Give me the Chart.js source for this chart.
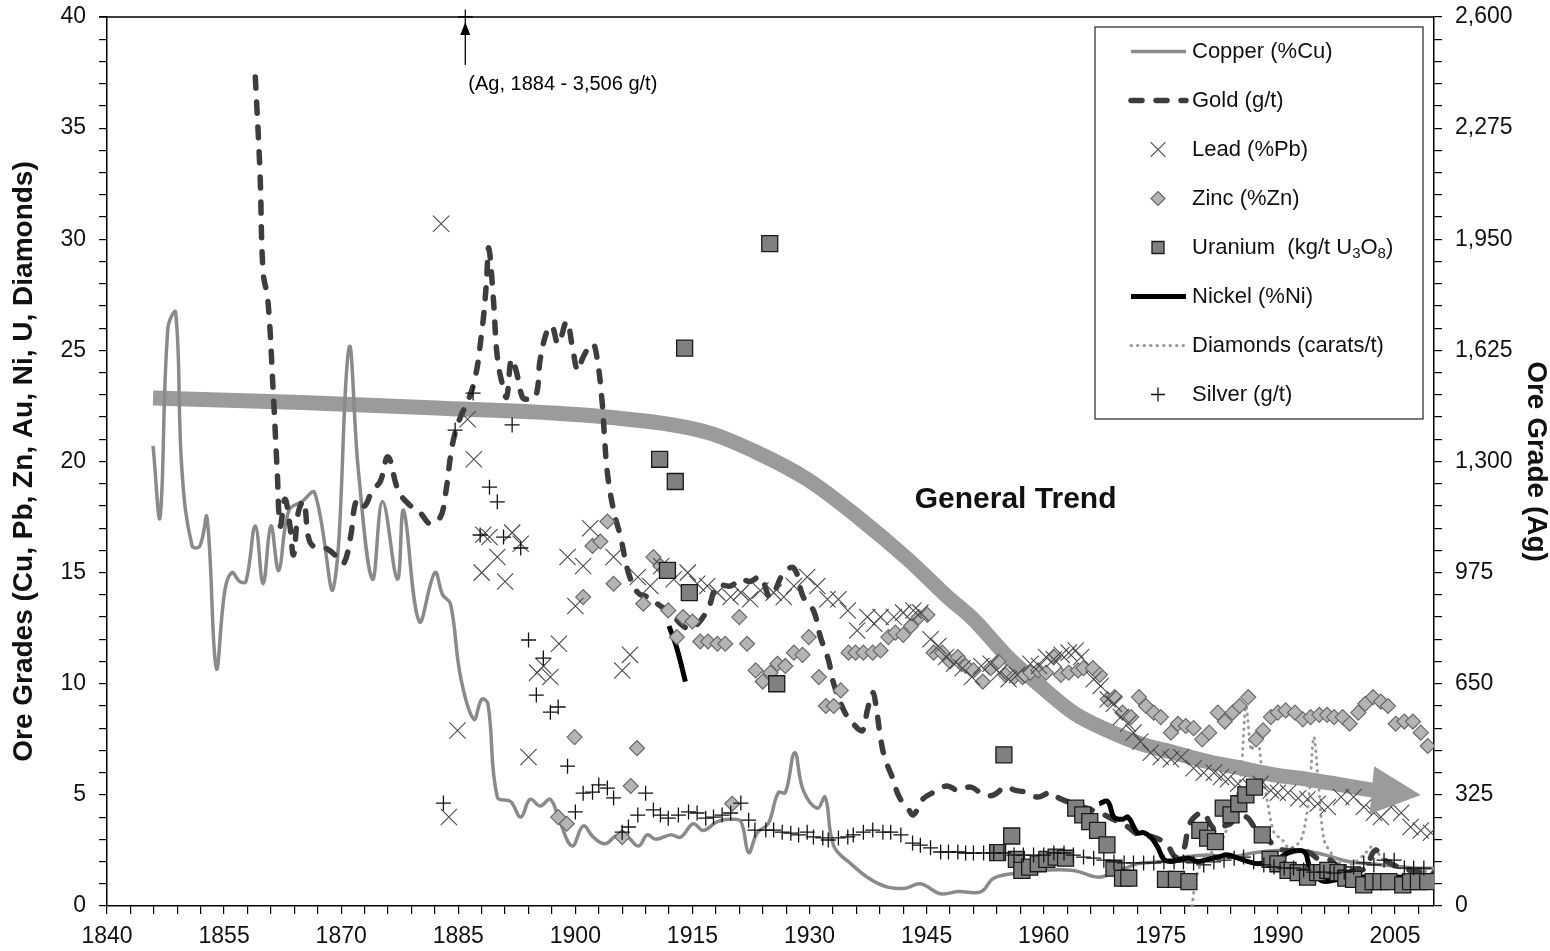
<!DOCTYPE html>
<html>
<head>
<meta charset="utf-8">
<script src="https://cdn.jsdelivr.net/npm/chart.js@4.4.1/dist/chart.umd.min.js"></script>
<style>
  html, body { margin: 0; padding: 0; background: #fff; }
  canvas { display: block; }
</style>
</head>
<body>
<canvas id="oreChart" width="1550" height="951"></canvas>
<script>
/////////////////////////////////////////////////////////////
// data
/////////////////////////////////////////////////////////////
// axis ticks
const xLabelYears = [1840, 1855, 1870, 1885, 1900, 1915, 1930, 1945, 1960, 1975, 1990, 2005]
const xMinorStep = 3
const gradeLabels = [0, 5, 10, 15, 20, 25, 30, 35, 40]
const gradeMinorStep = 1
const agLabels = [0, 325, 650, 975, 1300, 1625, 1950, 2275, 2600]
const agMinorStep = 65

// Copper (%Cu)
const cuYear = [1845.9, 1846.8, 1847.8, 1848.8, 1849.6, 1850.9, 1851.9, 1852.8, 1854.0, 1855.1, 1856.0, 1857.0, 1857.8,
  1859.0, 1860.0, 1861.0, 1862.0, 1863.3, 1865.0, 1866.6, 1869.0, 1871.0, 1872.2, 1874.0, 1875.3, 1877.2, 1878.0,
  1880.0, 1882.0, 1883.0, 1884.0, 1885.3, 1887.0, 1888.0, 1888.8, 1890.0, 1891.7, 1893.0, 1894.2, 1895.5, 1896.8,
  1898.0, 1899.6, 1901.0, 1902.3, 1903.8, 1905.4, 1906.7, 1908.1, 1909.2, 1910.3, 1912.2, 1913.5, 1915.1, 1916.4,
  1918.2, 1919.9, 1921.2, 1922.2, 1923.3, 1924.7, 1926.0, 1926.9, 1928.1, 1929.2, 1931.0, 1932.0, 1933.1, 1935.3,
  1937.8, 1940.0, 1942.3, 1944.2, 1946.8, 1949.0, 1952.0, 1953.6, 1957.0, 1959.6, 1963.8, 1967.0, 1969.0, 1970.8,
  1972.0, 1975.0, 1978.0, 1981.0, 1984.0, 1987.0, 1990.0, 1993.0, 1996.0, 1999.0, 2002.0, 2005.0, 2008.0, 2010.0]
const cuGrade = [20.7, 17.5, 26.0, 26.7, 19.6, 16.2, 16.2, 17.5, 10.7, 14.2, 15.0, 14.6, 14.6,
  17.1, 14.5, 17.1, 15.1, 17.8, 18.2, 18.6, 14.3, 25.1, 19.6, 14.7, 18.2, 14.7, 17.8,
  12.8, 15.0, 14.0, 13.6, 10.3, 8.4, 9.3, 9.1, 4.9, 4.7, 4.0, 4.8, 4.5, 4.8,
  3.8, 2.7, 3.6, 3.1, 2.8, 3.2, 3.1, 2.7, 3.2, 3.0, 3.2, 3.1, 3.7, 3.4,
  3.8, 3.9, 3.8, 2.4, 3.3, 3.7, 5.1, 5.1, 6.9, 5.2, 4.4, 4.9, 2.7, 1.9,
  1.2, 0.85, 0.8, 1.0, 0.55, 0.65, 0.65, 1.25, 1.5, 1.6, 1.6, 1.3, 1.5, 1.75,
  1.9, 2.0, 2.2, 2.3, 2.2, 2.4, 2.5, 2.5, 2.3, 2.0, 1.9, 1.8, 1.7, 1.7]

// Gold (g/t)
const auYear = [1859.0, 1859.6, 1860.0, 1860.6, 1861.3, 1861.8, 1862.2, 1862.8, 1863.4, 1863.9, 1864.5, 1865.2, 1865.8,
  1866.4, 1868.0, 1869.5, 1870.3, 1871.2, 1871.8, 1872.4, 1873.0, 1874.0, 1875.0, 1876.0, 1877.3, 1878.6, 1880.1,
  1881.4, 1882.7, 1883.3, 1884.6, 1886.9, 1888.0, 1888.6, 1888.9, 1889.5, 1890.0, 1890.7, 1891.2, 1891.8, 1892.4,
  1893.2, 1893.8, 1894.9, 1895.5, 1896.4, 1897.0, 1897.8, 1898.9, 1899.6, 1900.3, 1901.0, 1902.2, 1902.8, 1903.4,
  1903.7, 1904.1, 1904.9, 1905.8, 1906.8, 1908.0, 1909.2, 1910.9, 1912.2, 1913.8, 1915.0, 1916.9, 1918.2, 1919.9,
  1921.2, 1922.4, 1923.7, 1925.0, 1926.7, 1928.0, 1929.2, 1930.5, 1931.4, 1932.4, 1933.1, 1934.4, 1935.6, 1936.8,
  1937.4, 1938.1, 1938.6, 1939.0, 1939.6, 1940.6, 1941.5, 1942.6, 1943.3, 1944.5, 1945.8, 1947.6, 1949.0, 1950.7,
  1952.3, 1953.6, 1955.1, 1956.4, 1958.0, 1959.2, 1960.9, 1962.0, 1963.8, 1965.5, 1967.1, 1968.9, 1970.6, 1972.2,
  1974.0, 1975.7, 1976.9, 1977.8, 1978.6, 1979.3, 1980.5, 1981.3, 1982.2, 1983.1, 1983.9, 1984.7, 1986.0, 1986.9,
  1987.6, 1988.5, 1989.7, 1991.0, 1992.3, 1994.0, 1995.3, 1996.5, 1997.9, 2000.0, 2001.2, 2002.5, 2004.0, 2007.0, 2010.0]
const auGrade = [37.3, 33.0, 28.5, 27.3, 23.1, 19.6, 17.1, 18.3, 17.2, 15.8, 17.7, 18.2, 16.6,
  16.2, 16.1, 15.7, 15.4, 16.6, 18.1, 18.3, 18.0, 18.7, 19.1, 20.2, 18.7, 18.1, 17.7,
  17.2, 17.5, 18.4, 21.3, 23.4, 25.8, 28.0, 29.6, 27.3, 24.7, 23.4, 22.9, 24.6, 24.1,
  22.9, 22.8, 22.9, 24.6, 25.9, 26.1, 25.3, 26.3, 25.2, 24.1, 24.7, 25.3, 24.6, 22.8,
  21.3, 19.5, 17.8, 16.6, 15.0, 14.1, 13.9, 13.5, 13.2, 12.6, 12.5, 13.3, 14.4, 14.4,
  14.7, 14.6, 14.8, 13.9, 15.0, 15.2, 13.9, 13.3, 12.1, 11.1, 10.0, 8.8, 8.2, 7.9,
  8.8, 9.6, 8.8, 7.8, 6.7, 5.8, 4.9, 4.4, 4.1, 4.8, 5.1, 5.4, 5.2, 5.35,
  5.0, 5.0, 5.35, 5.2, 5.1, 4.9, 5.1, 4.85, 4.6, 4.4, 4.2, 3.9, 3.6, 3.2,
  3.1, 2.8, 2.2, 2.4, 3.6, 4.0, 4.2, 3.7, 3.4, 3.6, 3.7, 4.0, 4.0, 3.6,
  3.3, 3.1, 2.65, 2.5, 2.5, 2.4, 2.1, 2.1, 1.75, 1.6, 1.7, 2.5, 2.0, 1.6, 1.5]

// Lead (%Pb)
const pbYear = [1882.8, 1883.8, 1884.9, 1886.2, 1887.0, 1888.0, 1888.2, 1889.0, 1890.0, 1891.0, 1891.9, 1893.0, 1894.0,
  1895.1, 1895.9, 1896.8, 1897.9, 1899.0, 1900.0, 1901.0, 1901.9, 1904.9, 1906.0, 1907.0, 1908.0, 1909.6, 1911.0,
  1912.6, 1914.4, 1915.6, 1916.9, 1918.2, 1919.9, 1921.2, 1922.4, 1923.7, 1925.4, 1926.7, 1928.0, 1929.7, 1931.0,
  1932.3, 1933.7, 1934.9, 1936.1, 1937.4, 1938.3, 1939.1, 1940.8, 1942.0, 1943.3, 1944.2, 1945.5, 1946.5, 1947.5,
  1948.5, 1949.6, 1950.8, 1952.0, 1953.2, 1954.3, 1955.5, 1956.6, 1958.3, 1959.4, 1960.3, 1961.3, 1962.3, 1963.2,
  1964.1, 1964.8, 1966.4, 1967.3, 1968.2, 1969.0, 1969.9, 1970.8, 1971.5, 1972.4, 1973.7, 1975.0, 1976.3, 1977.6,
  1979.2, 1980.5, 1981.8, 1982.7, 1983.6, 1984.9, 1986.5, 1987.8, 1989.1, 1990.0, 1991.3, 1992.6, 1993.8, 1995.1,
  1996.4, 1998.1, 1999.7, 2001.0, 2002.3, 2003.2, 2004.5, 2005.8, 2007.0, 2008.3, 2009.6]
const pbGrade = [30.7, 4.0, 7.9, 21.9, 20.1, 15.0, 16.7, 16.6, 15.7, 14.6, 16.8, 16.3, 6.7,
  10.5, 10.8, 10.3, 11.8, 15.7, 13.5, 15.3, 17.0, 15.7, 10.6, 11.3, 14.8, 14.4, 15.3,
  14.7, 15.0, 14.5, 14.4, 14.1, 13.9, 14.1, 13.8, 14.2, 14.1, 13.9, 14.4, 14.8, 14.4,
  13.8, 13.8, 13.3, 12.4, 13.0, 12.7, 13.0, 13.0, 13.2, 13.3, 13.2, 12.0, 11.7, 11.2,
  10.9, 10.7, 10.3, 10.8, 10.9, 10.5, 10.2, 10.4, 10.9, 10.8, 11.2, 11.1, 11.3, 11.4,
  11.5, 11.2, 10.2, 9.9, 9.3, 9.1, 8.5, 8.2, 7.8, 7.4, 6.9, 6.7, 6.6, 6.7,
  6.2, 6.0, 6.0, 5.8, 5.7, 5.5, 5.35, 5.5, 5.2, 5.1, 5.1, 4.85, 4.8, 4.6,
  4.45, 4.9, 4.9, 4.45, 4.2, 4.0, 4.45, 4.2, 3.55, 3.4, 3.3]

// Zinc (%Zn)
const znYear = [1897.8, 1898.9, 1899.9, 1901.0, 1902.2, 1903.2, 1904.1, 1904.9, 1906.0, 1907.1, 1907.9, 1908.7, 1910.0,
  1910.9, 1911.9, 1913.0, 1913.8, 1915.0, 1916.0, 1917.0, 1918.2, 1919.2, 1920.1, 1921.0, 1922.0, 1923.1, 1924.0,
  1925.0, 1925.9, 1926.9, 1928.0, 1929.1, 1929.9, 1931.2, 1932.1, 1933.1, 1934.0, 1935.0, 1935.9, 1936.9, 1938.1,
  1939.1, 1940.1, 1941.0, 1942.0, 1943.0, 1944.0, 1945.1, 1945.9, 1947.0, 1948.0, 1949.0, 1950.0, 1951.0, 1952.2,
  1953.2, 1954.2, 1955.1, 1956.2, 1957.3, 1958.3, 1959.3, 1960.3, 1961.3, 1962.2, 1963.2, 1964.4, 1965.1, 1966.3,
  1967.2, 1968.2, 1969.1, 1970.1, 1971.2, 1972.2, 1973.1, 1974.1, 1975.0, 1976.3, 1977.2, 1978.2, 1979.2, 1980.3,
  1981.2, 1982.3, 1983.2, 1984.2, 1985.1, 1986.2, 1987.2, 1988.1, 1989.1, 1990.0, 1991.0, 1992.2, 1993.2, 1994.2,
  1995.3, 1996.3, 1997.2, 1998.3, 1999.2, 2000.3, 2001.2, 2002.2, 2003.2, 2004.1, 2005.1, 2006.2, 2007.3, 2008.3, 2009.2]
const znGrade = [4.0, 3.7, 7.6, 13.9, 16.2, 16.4, 17.3, 14.5, 3.1, 5.4, 7.1, 13.6, 15.7,
  15.3, 13.3, 12.1, 13.0, 12.8, 11.9, 11.9, 11.8, 11.8, 4.6, 13.0, 11.8, 10.6, 10.1,
  10.5, 10.9, 10.8, 11.4, 11.3, 12.1, 10.3, 9.0, 9.0, 9.7, 11.4, 11.4, 11.4, 11.4,
  11.5, 12.1, 12.3, 12.2, 12.6, 13.0, 13.1, 11.4, 11.4, 11.0, 11.2, 10.8, 10.6, 10.1,
  10.7, 11.0, 10.4, 10.3, 10.3, 10.5, 10.6, 10.5, 11.2, 10.4, 10.5, 10.6, 10.7, 10.7,
  10.4, 9.3, 9.4, 8.7, 8.5, 9.4, 9.0, 8.7, 8.5, 7.8, 8.2, 8.1, 8.0, 7.5,
  7.8, 8.7, 8.3, 8.7, 9.0, 9.4, 7.5, 7.9, 8.5, 8.7, 8.8, 8.7, 8.4, 8.5,
  8.6, 8.6, 8.5, 8.5, 8.2, 8.7, 9.1, 9.4, 9.2, 9.0, 8.2, 8.3, 8.3, 7.8, 7.2]

// Uranium (kg/t U3O8)
const uYear = [1910.8, 1911.8, 1912.8, 1914.0, 1914.6, 1924.9, 1925.8, 1954.1, 1954.9, 1955.9, 1956.5, 1957.2, 1958.2,
  1959.3, 1960.4, 1961.6, 1962.8, 1964.1, 1965.0, 1965.9, 1966.9, 1968.1, 1969.0, 1970.1, 1970.9, 1975.6, 1977.0,
  1978.6, 1980.0, 1981.0, 1982.0, 1983.0, 1984.0, 1985.0, 1985.9, 1987.0, 1988.0, 1989.0, 1990.0, 1991.3, 1992.6,
  1993.8, 1995.1, 1996.4, 1997.7, 1998.7, 1999.7, 2001.0, 2002.2, 2003.2, 2004.2, 2006.0, 2007.0, 2008.0, 2009.2]
const uGrade = [20.1, 15.1, 19.1, 25.1, 14.1, 29.8, 10.0, 2.4, 6.8, 3.15, 2.1, 1.6, 1.75,
  1.9, 2.1, 2.2, 2.15, 4.4, 4.1, 3.8, 3.4, 2.75, 1.7, 1.25, 1.25, 1.2, 1.2,
  1.1, 3.4, 3.05, 2.9, 4.4, 4.1, 4.6, 5.0, 5.35, 3.2, 2.1, 1.9, 1.6, 1.5,
  1.3, 1.5, 1.6, 1.5, 1.25, 1.2, 0.95, 1.1, 1.1, 1.1, 0.95, 1.1, 1.1, 1.1]

// Nickel (%Ni) - two runs, null marks the gap
const niYear = [1912.0, 1913.0, 1914.1, 1940.0, 1967.1, 1968.2, 1969.0, 1970.1, 1970.8, 1972.0, 1972.8, 1973.7, 1974.6,
  1975.4, 1976.3, 1977.6, 1978.6, 1979.7, 1981.0, 1982.3, 1983.6, 1984.9, 1986.2, 1987.5, 1988.8, 1990.1, 1991.4,
  1992.7, 1993.5, 1994.1, 1995.3, 1996.0, 1997.8, 2000.0, 2003.0, 2006.0, 2010.0]
const niGrade = [12.6, 11.6, 10.1, null, 4.6, 4.7, 4.0, 3.9, 4.0, 3.3, 3.3, 3.1, 2.65,
  2.1, 2.0, 2.1, 2.15, 2.0, 2.1, 2.2, 2.3, 2.15, 2.0, 1.9, 2.0, 2.15, 2.4,
  2.5, 2.4, 1.75, 1.2, 1.1, 1.2, 1.3, 1.3, 1.3, 1.4]

// Diamonds (carats/t)
const dmYear = [1979.0, 1979.4, 1980.0, 1981.0, 1982.0, 1983.0, 1984.0, 1985.2, 1985.9, 1986.6, 1987.3, 1988.0, 1988.6,
  1989.5, 1990.5, 1991.5, 1993.0, 1994.0, 1994.6, 1995.2, 1995.9, 1997.0, 1998.5, 2000.0, 2001.0, 2002.2, 2003.2,
  2004.5, 2006.0, 2008.0, 2010.0]
const dmGrade = [0.0, 1.0, 1.8, 2.2, 2.6, 3.1, 4.0, 5.7, 9.0, 7.0, 7.8, 6.0, 4.8,
  3.3, 3.0, 2.6, 3.0, 5.0, 7.6, 5.5, 3.0, 2.3, 1.8, 2.0, 2.3, 2.7, 2.2,
  1.8, 1.7, 1.6, 1.5]

// Silver (g/t), right axis. The 1884 grade (3,506 g/t) is off the scale and is drawn at the top edge.
const agYear = [1883.1, 1884.6, 1885.9, 1886.9, 1887.8, 1889.0, 1890.0, 1890.8, 1891.9, 1893.0, 1894.0, 1895.0, 1895.9,
  1896.8, 1897.8, 1899.0, 1900.0, 1901.0, 1902.2, 1903.0, 1904.1, 1904.9, 1906.0, 1906.8, 1908.0, 1909.0, 1910.0,
  1910.9, 1911.9, 1913.2, 1914.5, 1915.6, 1916.7, 1917.7, 1918.8, 1919.9, 1921.2, 1922.2, 1923.0, 1924.4, 1925.4,
  1926.5, 1927.6, 1928.6, 1929.7, 1930.5, 1931.7, 1932.4, 1933.7, 1934.9, 1935.6, 1936.9, 1938.1, 1939.4, 1940.4,
  1941.7, 1943.2, 1944.2, 1945.5, 1946.8, 1947.8, 1949.0, 1950.0, 1951.0, 1952.3, 1953.6, 1954.9, 1956.2, 1957.4,
  1958.7, 1960.0, 1961.3, 1962.6, 1963.8, 1965.1, 1966.4, 1967.7, 1969.0, 1970.3, 1971.5, 1972.8, 1974.1, 1975.4,
  1976.7, 1977.9, 1979.2, 1980.5, 1981.8, 1983.1, 1984.4, 1985.6, 1986.9, 1988.2, 1989.5, 1990.8, 1992.0, 1993.3,
  1994.6, 1995.9, 1997.2, 1998.5, 1999.7, 2001.0, 2002.3, 2003.6, 2004.9, 2006.2, 2007.4, 2008.7]
const agGrade = [301, 1392, 2600, 1500, 1085, 1225, 1182, 1079, 1407, 1047, 778, 617, 725,
  567, 582, 409, 275, 330, 333, 354, 345, 316, 216, 231, 266, 330, 281,
  266, 257, 266, 275, 272, 257, 260, 266, 272, 301, 251, 222, 222, 222,
  216, 213, 208, 216, 202, 199, 193, 199, 202, 208, 216, 222, 216, 216,
  208, 184, 178, 170, 158, 158, 158, 155, 155, 155, 155, 155, 149, 149,
  149, 149, 155, 155, 149, 143, 140, 134, 129, 126, 126, 126, 126, 129,
  129, 129, 126, 120, 129, 134, 140, 143, 129, 120, 114, 111, 111, 105,
  99, 99, 96, 99, 114, 126, 120, 134, 134, 111, 111, 111]
const agPeakIndex = 2

// General trend band (hand drawn in the original) and its arrow tip
const trendYear = [1845.9, 1865.0, 1883.0, 1904.0, 1917.0, 1923.3, 1929.7, 1936.2, 1942.6, 1947.7, 1951.0, 1955.4,
  1959.6, 1963.8, 1968.2, 1972.4, 1976.7, 1981.0, 1985.3, 1989.5, 1993.8, 1998.1, 2002.3]
const trendGrade = [22.86, 22.65, 22.4, 22.0, 21.3, 20.4, 19.2, 17.5, 15.6, 13.9, 12.9, 11.2,
  9.9, 8.7, 7.9, 7.3, 6.9, 6.5, 6.2, 5.9, 5.7, 5.45, 5.2]
const trendTip = [2008.3, 5.0]

/////////////////////////////////////////////////////////////
// setup
/////////////////////////////////////////////////////////////
const FONT = "'Liberation Sans', Arial, Helvetica, sans-serif"
Chart.defaults.font.family = FONT
Chart.defaults.color = '#111'

const pairs = (xs, ys) => xs.map((x, i) => ({x: x, y: ys[i]}))

function stepTicks(min, max, step) {
  const out = []
  for (let v = min; v <= max + 1e-9; v += step) out.push({value: Math.round(v * 100) / 100})
  return out
}

// keep the plot box where the original has it (no extra room for tick labels)
function noPad(axis) {
  axis.paddingTop = 0
  axis.paddingBottom = 0
  axis.paddingLeft = 0
  axis.paddingRight = 0
}

const axisGrid = {drawOnChartArea: false, drawTicks: true, tickLength: 8, color: '#000', lineWidth: 1.2}
const axisBorder = {display: true, color: '#000', width: 1.5}
const tickFont = {size: 23}
const titleFont = {size: 28, weight: 'bold'}

const dataChart = {
  datasets: [
    {
      label: 'General Trend', data: pairs(trendYear, trendGrade), yAxisID: 'y',
      borderColor: '#9b9b9b', borderWidth: 15, pointRadius: 0, cubicInterpolationMode: 'monotone',
      order: 20
    },
    {
      label: 'Copper (%Cu)', data: pairs(cuYear, cuGrade), yAxisID: 'y',
      borderColor: '#8a8a8a', borderWidth: 3.5, pointRadius: 0, tension: 0.4, order: 10
    },
    {
      label: 'Gold (g/t)', data: pairs(auYear, auGrade), yAxisID: 'y',
      borderColor: '#3d3d3d', borderWidth: 5.5, borderDash: [11, 14], borderCapStyle: 'round',
      pointRadius: 0, tension: 0.4, order: 8
    },
    {
      label: 'Lead (%Pb)', data: pairs(pbYear, pbGrade), yAxisID: 'y', showLine: false,
      pointStyle: 'crossRot', pointRadius: 11.5, borderColor: '#4a4a4a', pointBorderWidth: 1.1, order: 5
    },
    {
      label: 'Zinc (%Zn)', data: pairs(znYear, znGrade), yAxisID: 'y', showLine: false,
      pointStyle: 'rectRot', pointRadius: 7.5, backgroundColor: '#b4b4b4', borderColor: '#6a6a6a',
      pointBorderWidth: 1.2, order: 6
    },
    {
      label: 'Uranium  (kg/t U₃O₈)', data: pairs(uYear, uGrade), yAxisID: 'y', showLine: false,
      pointStyle: 'rect', pointRadius: 11.3, backgroundColor: '#808080', borderColor: '#1a1a1a',
      pointBorderWidth: 1.3, order: 4
    },
    {
      label: 'Nickel (%Ni)', data: pairs(niYear, niGrade), yAxisID: 'y',
      borderColor: '#000', borderWidth: 5, pointRadius: 0, tension: 0.4, spanGaps: false, order: 7
    },
    {
      label: 'Diamonds (carats/t)', data: pairs(dmYear, dmGrade), yAxisID: 'y',
      borderColor: '#9a9a9a', borderWidth: 3, borderDash: [0.5, 6], borderCapStyle: 'round',
      pointRadius: 0, tension: 0.3, order: 9
    },
    {
      label: 'Silver (g/t)', data: pairs(agYear, agGrade), yAxisID: 'yAg', showLine: false,
      pointStyle: 'cross', pointRadius: 7.5, borderColor: '#111', pointBorderWidth: 1.3, order: 3, clip: false
    }
  ]
}

// legend rows (custom box, like the original)
const legendRows = ['Copper (%Cu)', 'Gold (g/t)', 'Lead (%Pb)', 'Zinc (%Zn)', 'Uranium  (kg/t U₃O₈)',
  'Nickel (%Ni)', 'Diamonds (carats/t)', 'Silver (g/t)']
const legendMarkerRadius = {'crossRot': 10.5, 'rectRot': 7, 'rect': 8.5, 'cross': 7}

function drawMarker(ctx, style, x, y, r) {
  ctx.beginPath()
  if (style === 'cross') {
    ctx.moveTo(x - r, y); ctx.lineTo(x + r, y)
    ctx.moveTo(x, y - r); ctx.lineTo(x, y + r)
    ctx.stroke()
  } else if (style === 'crossRot') {
    const d = r * Math.SQRT1_2
    ctx.moveTo(x - d, y - d); ctx.lineTo(x + d, y + d)
    ctx.moveTo(x - d, y + d); ctx.lineTo(x + d, y - d)
    ctx.stroke()
  } else if (style === 'rectRot') {
    ctx.moveTo(x, y - r); ctx.lineTo(x + r, y); ctx.lineTo(x, y + r); ctx.lineTo(x - r, y)
    ctx.closePath(); ctx.fill(); ctx.stroke()
  } else {
    const s = r * Math.SQRT1_2
    ctx.rect(x - s, y - s, 2 * s, 2 * s)
    ctx.fill(); ctx.stroke()
  }
}

// text with unicode subscript digits drawn small and lowered
function drawRichText(ctx, text, x, y, size) {
  const subs = '₀₁₂₃₄₅₆₇₈₉'
  let cx = x
  let run = ''
  const flush = () => {
    if (!run) return
    ctx.font = size + 'px ' + FONT
    ctx.fillText(run, cx, y)
    cx += ctx.measureText(run).width
    run = ''
  }
  for (const ch of text) {
    const i = subs.indexOf(ch)
    if (i >= 0) {
      flush()
      ctx.font = Math.round(size * 0.68) + 'px ' + FONT
      ctx.fillText(String(i), cx, y + size * 0.28)
      cx += ctx.measureText(String(i)).width
    } else run += ch
  }
  flush()
}

const overlayPlugin = {
  id: 'overlay',
  afterDatasetsDraw(chart) {
    const {ctx, chartArea: a, scales} = chart
    const x = scales.x, y = scales.y, yAg = scales.yAg
    ctx.save()

    // top frame line
    ctx.strokeStyle = '#000'
    ctx.lineWidth = 1.5
    ctx.beginPath(); ctx.moveTo(a.left - 8, a.top); ctx.lineTo(a.right, a.top); ctx.stroke()

    // arrow head of the trend band
    const tpts = chart.getDatasetMeta(0).data
    const base = tpts[tpts.length - 1]
    const tipX = x.getPixelForValue(trendTip[0]), tipY = y.getPixelForValue(trendTip[1])
    const dx = tipX - base.x, dy = tipY - base.y, len = Math.hypot(dx, dy)
    const nx = -dy / len, ny = dx / len, hw = 24
    ctx.fillStyle = '#9b9b9b'
    ctx.beginPath()
    ctx.moveTo(base.x - dx / len * 2 + nx * hw, base.y - dy / len * 2 + ny * hw)
    ctx.lineTo(tipX, tipY)
    ctx.lineTo(base.x - dx / len * 2 - nx * hw, base.y - dy / len * 2 - ny * hw)
    ctx.closePath(); ctx.fill()

    // "General Trend" label
    ctx.fillStyle = '#111'
    ctx.font = 'bold 30px ' + FONT
    ctx.textAlign = 'center'
    ctx.textBaseline = 'middle'
    ctx.fillText('General Trend', x.getPixelForValue(1956.4), y.getPixelForValue(18.3))

    // off-scale silver value
    const px = x.getPixelForValue(agYear[agPeakIndex]), py = yAg.getPixelForValue(agGrade[agPeakIndex])
    ctx.strokeStyle = '#000'
    ctx.lineWidth = 1.3
    ctx.beginPath(); ctx.moveTo(px, py + 48); ctx.lineTo(px, py + 16); ctx.stroke()
    ctx.fillStyle = '#000'
    ctx.beginPath(); ctx.moveTo(px, py + 5); ctx.lineTo(px + 5, py + 18); ctx.lineTo(px - 5, py + 18); ctx.closePath(); ctx.fill()
    ctx.font = '20px ' + FONT
    ctx.textAlign = 'left'
    ctx.fillText('(Ag, 1884 - 3,506 g/t)', px + 3, py + 67)
    ctx.restore()
  },
  afterDraw(chart) {
    const {ctx} = chart
    const box = {left: 1095, top: 27, right: 1423, bottom: 419}
    ctx.save()
    ctx.fillStyle = '#fff'
    ctx.fillRect(box.left, box.top, box.right - box.left, box.bottom - box.top)
    ctx.strokeStyle = '#222'
    ctx.lineWidth = 1.2
    ctx.strokeRect(box.left, box.top, box.right - box.left, box.bottom - box.top)

    const rowGap = (box.bottom - box.top) / legendRows.length
    legendRows.forEach((label, i) => {
      const ds = chart.data.datasets.find(d => d.label === label)
      const ry = box.top + rowGap * (i + 0.5)
      ctx.save()
      if (ds.showLine === false) {
        ctx.strokeStyle = ds.borderColor
        ctx.fillStyle = ds.backgroundColor || ds.borderColor
        ctx.lineWidth = ds.pointBorderWidth
        drawMarker(ctx, ds.pointStyle, 1158, ry, legendMarkerRadius[ds.pointStyle])
      } else {
        ctx.strokeStyle = ds.borderColor
        ctx.lineWidth = ds.borderWidth
        ctx.lineCap = ds.borderCapStyle || 'butt'
        ctx.setLineDash(ds.borderDash || [])
        ctx.beginPath(); ctx.moveTo(1131, ry); ctx.lineTo(1186, ry); ctx.stroke()
      }
      ctx.restore()
      ctx.fillStyle = '#111'
      ctx.textAlign = 'left'
      ctx.textBaseline = 'middle'
      drawRichText(ctx, label, 1192, ry, 22)
    })
    ctx.restore()
  }
}

// config
const config = {
  type: 'line',
  data: dataChart,
  plugins: [overlayPlugin],
  options: {
    responsive: false,
    animation: false,
    devicePixelRatio: 1,
    layout: {padding: {top: 17, left: 0, right: 0, bottom: 0}},
    plugins: {
      legend: {display: false},
      tooltip: {enabled: false}
    },
    scales: {
      x: {
        type: 'linear', min: 1840, max: 2010,
        grid: axisGrid, border: axisBorder,
        afterBuildTicks: axis => { axis.ticks = stepTicks(1840, 2010, xMinorStep) },
        afterFit: axis => { axis.height = 45; noPad(axis) },
        ticks: {
          autoSkip: false, maxRotation: 0, padding: 9, font: tickFont,
          callback: v => xLabelYears.includes(v) ? String(v) : ''
        }
      },
      y: {
        type: 'linear', position: 'left', min: 0, max: 40,
        grid: axisGrid, border: axisBorder,
        afterBuildTicks: axis => { axis.ticks = stepTicks(0, 40, gradeMinorStep) },
        afterFit: axis => { axis.width = 107; noPad(axis) },
        ticks: {
          autoSkip: false, padding: 13, font: tickFont,
          callback: v => gradeLabels.includes(v) ? String(v) : ''
        },
        title: {
          display: true, text: 'Ore Grades (Cu, Pb, Zn, Au, Ni, U, Diamonds)',
          font: titleFont, padding: {top: 7, bottom: 0}
        }
      },
      yAg: {
        type: 'linear', position: 'right', min: 0, max: 2600,
        grid: axisGrid, border: axisBorder,
        afterBuildTicks: axis => { axis.ticks = stepTicks(0, 2600, agMinorStep) },
        afterFit: axis => { axis.width = 116; noPad(axis) },
        ticks: {
          autoSkip: false, padding: 13, font: tickFont,
          callback: v => agLabels.includes(v) ? v.toLocaleString('en-US') : ''
        },
        title: {
          display: true, text: 'Ore Grade (Ag)',
          font: titleFont, padding: {top: -3, bottom: 0}
        }
      }
    }
  }
}

// render / init
const oreChart = new Chart(document.getElementById('oreChart'), config)
</script>
</body>
</html>
